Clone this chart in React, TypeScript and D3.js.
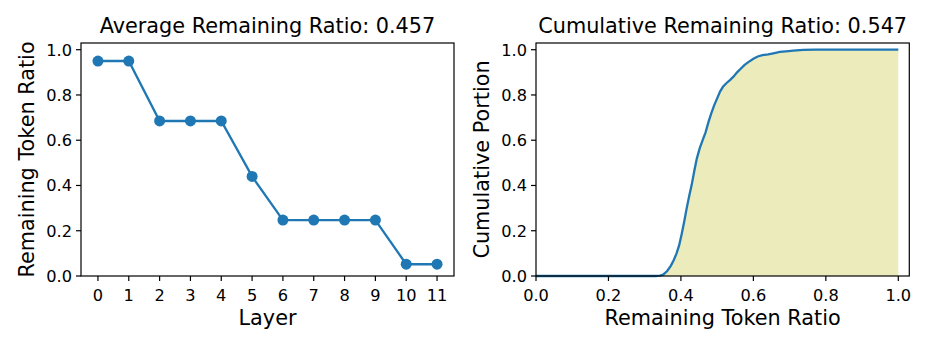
import React from "react";
import * as d3 from "d3";

const layers = [0, 1, 2, 3, 4, 5, 6, 7, 8, 9, 10, 11];
const remaining = [0.95, 0.95, 0.685, 0.685, 0.685, 0.44, 0.247, 0.247, 0.247, 0.247, 0.052, 0.052];
const yTicks = [0, 0.2, 0.4, 0.6, 0.8, 1.0];
const xTicksRight = [0, 0.2, 0.4, 0.6, 0.8, 1.0];

const cdfX = [0, 0.2, 0.33, 0.342, 0.351, 0.362, 0.372, 0.38, 0.388, 0.395, 0.402, 0.409, 0.416, 0.423, 0.43, 0.437, 0.444, 0.452, 0.46, 0.468, 0.476, 0.484, 0.492, 0.5, 0.508, 0.516, 0.526, 0.536, 0.545, 0.555, 0.565, 0.575, 0.586, 0.6, 0.612, 0.625, 0.641, 0.655, 0.673, 0.69, 0.71, 0.738, 0.77, 0.82, 0.9, 1.0];
const cdfY = [0, 0, 0.0, 0.002, 0.006, 0.022, 0.045, 0.07, 0.1, 0.135, 0.185, 0.24, 0.3, 0.355, 0.405, 0.465, 0.52, 0.565, 0.6, 0.635, 0.68, 0.72, 0.755, 0.785, 0.815, 0.836, 0.853, 0.867, 0.881, 0.9, 0.916, 0.932, 0.945, 0.96, 0.97, 0.976, 0.979, 0.984, 0.99, 0.993, 0.996, 0.999, 1.0, 1.0, 1.0, 1.0];

const titles = ["Average Remaining Ratio: 0.457", "Cumulative Remaining Ratio: 0.547"];

const BLUE = "#1f77b4";
const FONT = "DejaVu Sans, sans-serif";
const TICK_FS = 16.2;
const LABEL_FS = 20.8;

const top = 43, bottom = 276;

export default function App() {
  // left panel
  const lx0 = 81, lx1 = 454;
  const xL = d3.scaleLinear().domain([-0.55, 11.55]).range([lx0, lx1]);
  const yS = d3.scaleLinear().domain([0, 1.0]).range([bottom, 49.7]);
  const lineL = d3.line<number>().x((_, i) => xL(layers[i])).y((d) => yS(d));

  // right panel
  const rx0 = 536, rx1 = 909.3;
  const xR = d3.scaleLinear().domain([0, 1]).range([536, 898.3]);
  const pts = cdfX.map((x, i) => [x, cdfY[i]] as [number, number]);
  const lineR = d3.line<[number, number]>().x((d) => xR(d[0])).y((d) => yS(d[1]));
  const areaR = d3.area<[number, number]>().x((d) => xR(d[0])).y0(yS(0)).y1((d) => yS(d[1]));

  const yAxis = (x0: number) =>
    yTicks.map((t) => (
      <g key={t}>
        <line x1={x0 - 5} x2={x0} y1={yS(t)} y2={yS(t)} stroke="#000" strokeWidth={1.2} />
        <text x={x0 - 9} y={yS(t)} dy="0.36em" textAnchor="end" fontSize={TICK_FS} fontFamily={FONT}>
          {t.toFixed(1)}
        </text>
      </g>
    ));

  return (
    <svg width={930} height={349} style={{ position: "absolute", left: 0, top: 0 }}>
      <rect width={930} height={349} fill="#fff" />
      {/* Left panel */}
      <text x={(lx0 + lx1) / 2} y={33} textAnchor="middle" fontSize={LABEL_FS} fontFamily={FONT}>
        {titles[0]}
      </text>
      <path d={lineL(remaining) || ""} fill="none" stroke={BLUE} strokeWidth={2.3} />
      {remaining.map((v, i) => (
        <circle key={i} cx={xL(layers[i])} cy={yS(v)} r={5.5} fill={BLUE} />
      ))}
      <rect x={lx0} y={top} width={lx1 - lx0} height={bottom - top} fill="none" stroke="#000" strokeWidth={1.2} />
      {yAxis(lx0)}
      {layers.map((l) => (
        <g key={l}>
          <line x1={xL(l)} x2={xL(l)} y1={bottom} y2={bottom + 5} stroke="#000" strokeWidth={1.2} />
          <text x={xL(l)} y={bottom + 24.5} textAnchor="middle" fontSize={TICK_FS} fontFamily={FONT}>
            {l}
          </text>
        </g>
      ))}
      <text x={(lx0 + lx1) / 2} y={325} textAnchor="middle" fontSize={LABEL_FS} fontFamily={FONT}>
        Layer
      </text>
      <text
        transform={`translate(34, ${(top + bottom) / 2}) rotate(-90)`}
        textAnchor="middle"
        fontSize={LABEL_FS}
        fontFamily={FONT}
      >
        Remaining Token Ratio
      </text>

      {/* Right panel */}
      <text x={(rx0 + rx1) / 2} y={33} textAnchor="middle" fontSize={LABEL_FS} fontFamily={FONT}>
        {titles[1]}
      </text>
      <path d={areaR(pts) || ""} fill="#bcbd22" fillOpacity={0.3} />
      <path d={lineR(pts) || ""} fill="none" stroke={BLUE} strokeWidth={2.3} />
      <rect x={rx0} y={top} width={rx1 - rx0} height={bottom - top} fill="none" stroke="#000" strokeWidth={1.2} />
      {yAxis(rx0)}
      {xTicksRight.map((t) => (
        <g key={t}>
          <line x1={xR(t)} x2={xR(t)} y1={bottom} y2={bottom + 5} stroke="#000" strokeWidth={1.2} />
          <text x={xR(t)} y={bottom + 24.5} textAnchor="middle" fontSize={TICK_FS} fontFamily={FONT}>
            {t.toFixed(1)}
          </text>
        </g>
      ))}
      <text x={(rx0 + rx1) / 2} y={325} textAnchor="middle" fontSize={LABEL_FS} fontFamily={FONT}>
        Remaining Token Ratio
      </text>
      <text
        transform={`translate(489, ${(top + bottom) / 2}) rotate(-90)`}
        textAnchor="middle"
        fontSize={LABEL_FS}
        fontFamily={FONT}
      >
        Cumulative Portion
      </text>
    </svg>
  );
}
